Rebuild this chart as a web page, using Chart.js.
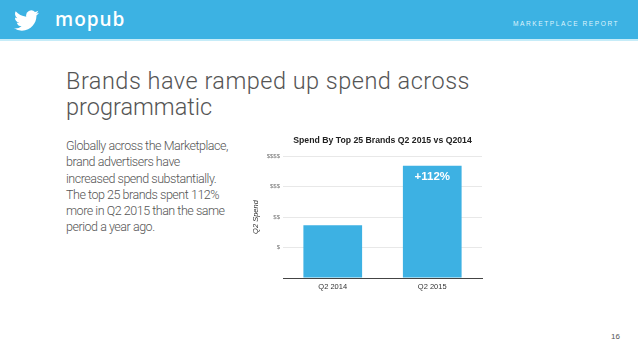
<!DOCTYPE html>
<html>
<head>
<meta charset="utf-8">
<script src="https://cdn.jsdelivr.net/npm/chart.js@4.4.1/dist/chart.umd.min.js"></script>
<style>
  html, body { margin:0; padding:0; width:638px; height:359px; background:#fff; overflow:hidden; }
  #header { position:absolute; left:0; top:0; width:638px; height:39px; background:#3cb2e3; border-bottom:2px solid #c6ecf8; }
  #bird { position:absolute; left:14px; top:10px; width:25px; height:21px; }
  #logo { position:absolute; left:55px; top:6px; font-family:"Open Sans", sans-serif; font-weight:600; font-size:19px; color:#fff; letter-spacing:1px; }
  #report { position:absolute; left:513px; top:20px; font-family:"Liberation Sans", Arial, sans-serif; font-size:6.6px; color:#dff3fc; letter-spacing:1.55px; white-space:nowrap; }
  #title { position:absolute; left:66px; top:68px; font-family:Roboto, sans-serif; font-weight:300; font-size:23.5px; line-height:26px; color:#555; white-space:nowrap; }
  #body { position:absolute; left:66px; top:138px; font-family:Roboto, sans-serif; font-weight:300; font-size:12.5px; line-height:16.3px; color:#555; white-space:nowrap; }
  #body div, #title div { display:block; }
  #chartWrap { position:absolute; left:245px; top:128px; width:240px; height:166px; }
  #page { position:absolute; left:611px; top:332px; font-family:"Liberation Sans", Arial, sans-serif; font-size:8px; color:#555; }
</style>
</head>
<body>
<div id="header">
  <svg id="bird" viewBox="0 0 24 20"><path fill="#fff" d="M23.953 2.57a10 10 0 01-2.825.775 4.958 4.958 0 002.163-2.723c-.951.555-2.005.959-3.127 1.184a4.92 4.92 0 00-8.384 4.482C7.690 6.095 4.067 4.130 1.640 1.162a4.822 4.822 0 00-.666 2.475c0 1.71.87 3.213 2.188 4.096a4.904 4.904 0 01-2.228-.616v.06a4.923 4.923 0 003.946 4.827 4.996 4.996 0 01-2.212.085 4.936 4.936 0 004.604 3.417 9.867 9.867 0 01-6.102 2.105c-.39 0-.779-.023-1.17-.067a13.995 13.995 0 007.557 2.209c9.053 0 13.998-7.496 13.998-13.985 0-.21 0-.42-.015-.63A9.935 9.935 0 0024 2.590z"/></svg>
  <div id="logo">mopub</div>
  <div id="report">MARKETPLACE REPORT</div>
</div>
<div id="title"><div id="t1">Brands have ramped up spend across</div><div id="t2">programmatic</div></div>
<div id="body">
  <div id="b1">Globally across the Marketplace,</div>
  <div>brand advertisers have</div>
  <div>increased spend substantially.</div>
  <div>The top 25 brands spent 112%</div>
  <div>more in Q2 2015 than the same</div>
  <div>period a year ago.</div>
</div>
<div id="chartWrap"><canvas id="c"></canvas></div>
<div id="page">16</div>
<script>
// ---- data ----
const categories = ["Q2 2014", "Q2 2015"];
const spendValues = [1.73, 3.68];
const barLabels = ["", "+112%"];
const yTickLabels = ["", "$", "$$", "$$$", "$$$$"];
const chartTitle = "Spend By Top 25 Brands Q2 2015 vs Q2014";
const yAxisTitle = "Q2 Spend";

// fit text widths by letter-spacing
function fit(el, target) {
  el.style.display = 'inline-block';
  const w = el.getBoundingClientRect().width;
  const n = el.textContent.length;
  el.style.letterSpacing = ((target - w) / n) + 'px';
  el.style.display = 'block';
}
fit(document.getElementById('t1'), 404);
(function(){
  const b1 = document.getElementById('b1');
  b1.style.display = 'inline-block';
  const w = b1.getBoundingClientRect().width;
  const ls = (162 - w) / b1.textContent.length;
  document.getElementById('body').style.letterSpacing = ls + 'px';
  b1.style.display = 'block';
})();

const FONT = '"Liberation Sans", Arial, sans-serif';

const decorations = {
  id: 'decorations',
  afterDatasetsDraw(chart) {
    const ctx = chart.ctx;
    const area = chart.chartArea;
    const meta = chart.getDatasetMeta(0);
    ctx.save();
    // chart title centred over plot area
    ctx.fillStyle = '#222';
    ctx.font = 'bold 8.7px ' + FONT;
    ctx.textAlign = 'center';
    ctx.textBaseline = 'middle';
    ctx.fillText(chartTitle, (area.left + area.right) / 2, 12.5);
    // bar value labels
    ctx.fillStyle = '#fff';
    ctx.font = 'bold 11.5px ' + FONT;
    meta.data.forEach((bar, i) => {
      if (barLabels[i]) ctx.fillText(barLabels[i], bar.x, bar.y + 11);
    });
    ctx.restore();
  }
};

new Chart(document.getElementById('c'), {
  type: 'bar',
  data: {
    labels: categories,
    datasets: [{
      data: spendValues,
      backgroundColor: '#3db1e3',
      borderWidth: 0,
      barPercentage: 0.59,
      categoryPercentage: 1.0
    }]
  },
  options: {
    responsive: true,
    maintainAspectRatio: false,
    animation: false,
    layout: { padding: { left: 0, right: 3, top: 28, bottom: 0 } },
    plugins: {
      legend: { display: false },
      tooltip: { enabled: false },
      title: { display: false }
    },
    scales: {
      x: {
        afterFit(scale) { scale.height = 16; },
        grid: { display: false, drawTicks: false },
        border: { display: true, color: '#444', width: 1 },
        ticks: { color: '#333', font: { family: FONT, size: 7.5 }, padding: 4, maxRotation: 0 }
      },
      y: {
        min: 0, max: 4,
        afterFit(scale) { scale.width = 38; },
        border: { display: false },
        grid: { color: '#e8e8e8', drawTicks: false },
        ticks: {
          stepSize: 1,
          padding: 3,
          color: '#777',
          font: { family: FONT, size: 6 },
          callback: (v) => yTickLabels[v] || ''
        },
        title: {
          display: true,
          text: yAxisTitle,
          color: '#333',
          padding: { top: 6, bottom: 0 },
          font: { family: FONT, size: 7.5, style: 'italic' }
        }
      }
    }
  },
  plugins: [decorations]
});
</script>
</body>
</html>
